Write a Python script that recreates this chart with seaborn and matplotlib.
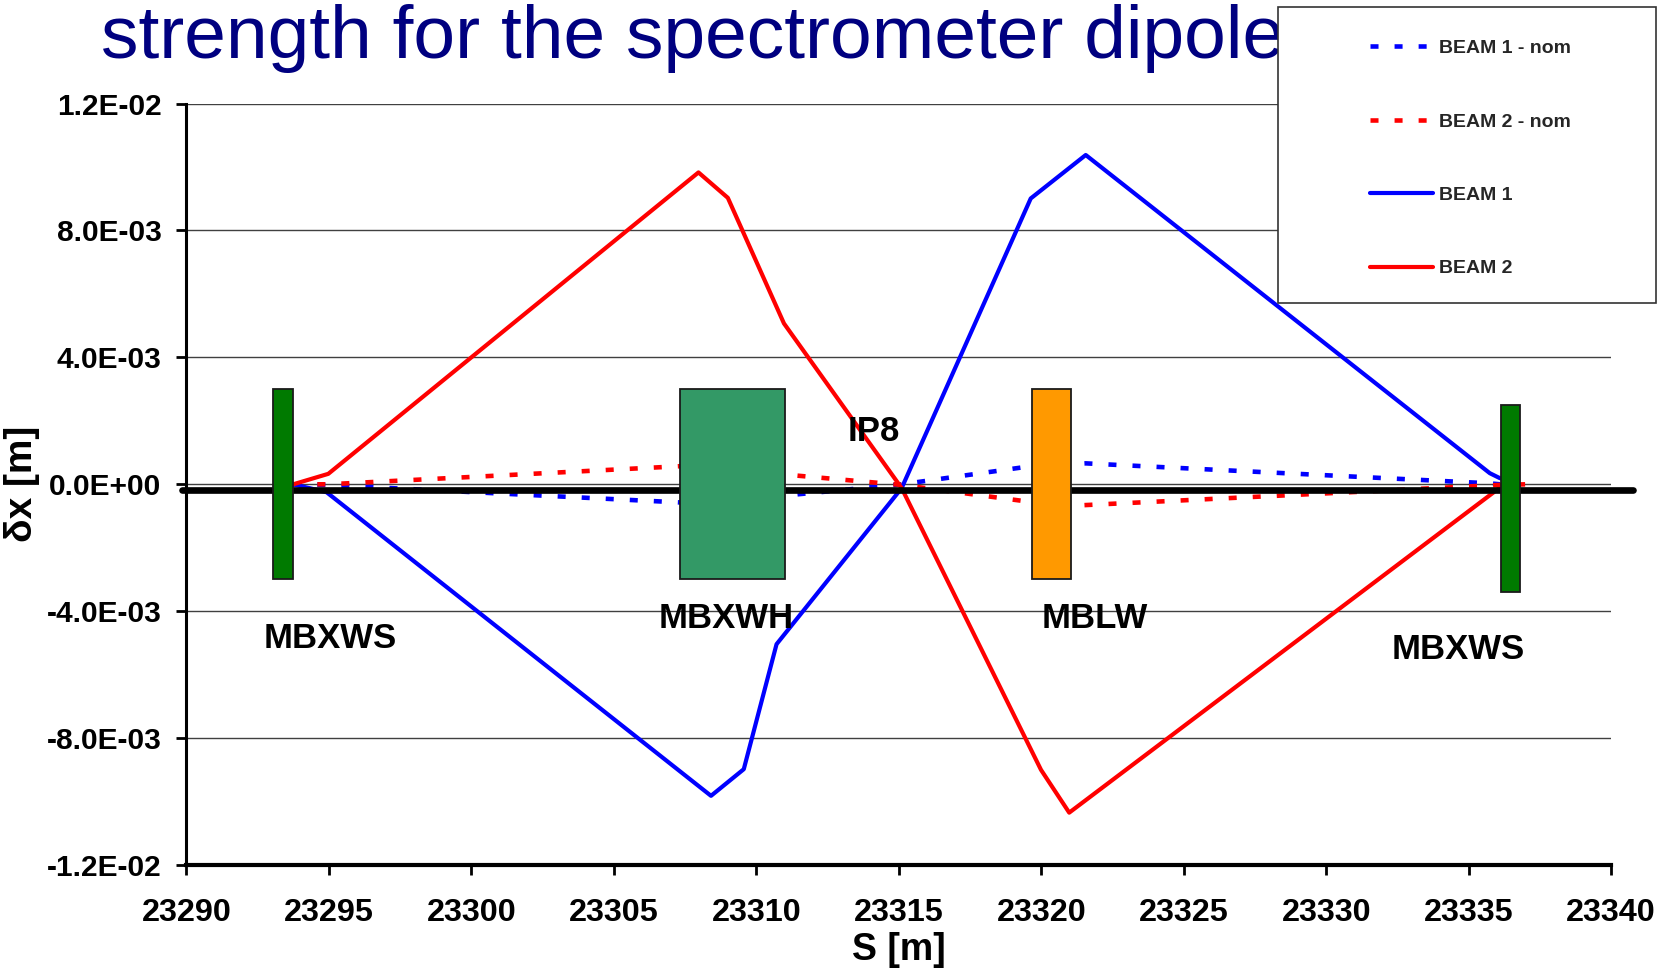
import matplotlib
matplotlib.use("Agg")
import matplotlib.pyplot as plt
from matplotlib.patches import Rectangle
from matplotlib.lines import Line2D
import pandas as pd
import seaborn as sns

# Horizontal orbit offsets dx [m] along S [m] around IP8
s_beam1_nom = [23293.75, 23294.92, 23308.41, 23309.56, 23310.71, 23315.1, 23319.63, 23321.56, 23335.74, 23336.1]
x_beam1_nom = [0.0, -0.02e-3, -0.62e-3, -0.55e-3, -0.38e-3, 0.0, 0.57e-3, 0.66e-3, 0.03e-3, 0.0]

s_beam2_nom = [23293.75, 23294.98, 23307.97, 23309.0, 23310.97, 23315.1, 23319.99, 23320.98, 23336.1, 23337.05]
x_beam2_nom = [0.0, 0.0, 0.6e-3, 0.55e-3, 0.31e-3, -0.02e-3, -0.6e-3, -0.68e-3, -0.02e-3, 0.0]

s_beam1 = [23293.75, 23294.92, 23308.41, 23309.56, 23310.71, 23315.1, 23319.63, 23321.56, 23335.74, 23336.1]
x_beam1 = [0.0, -0.25e-3, -9.82e-3, -8.98e-3, -5.04e-3, -0.12e-3, 9.01e-3, 10.38e-3, 0.35e-3, 0.19e-3]

s_beam2 = [23293.75, 23294.98, 23307.97, 23309.0, 23310.97, 23315.1, 23319.99, 23320.98, 23336.1]
x_beam2 = [0.0, 0.33e-3, 9.83e-3, 9.03e-3, 5.07e-3, -0.12e-3, -9.0e-3, -10.35e-3, -0.1e-3]

# Reference beam axis
axis_s = [23289.85, 23340.75]
axis_x = [-0.19e-3, -0.19e-3]

series_names = ["BEAM 1 - nom", "BEAM 2 - nom", "BEAM 1", "BEAM 2"]
series_colors = ["#0000FF", "#FF0000", "#0000FF", "#FF0000"]

# Magnets: aperture boxes
magnet_s_start = [23293.05, 23307.32, 23319.69, 23336.15]
magnet_s_end = [23293.75, 23311.0, 23321.03, 23336.8]
magnet_x_low = [-3.0e-3, -3.0e-3, -3.0e-3, -3.4e-3]
magnet_x_high = [3.0e-3, 3.0e-3, 3.0e-3, 2.5e-3]
magnet_colors = ["#007A00", "#339966", "#FF9900", "#007A00"]

label_text = ["MBXWS", "MBXWH", "IP8", "MBLW", "MBXWS"]
label_s = [23295.04, 23308.93, 23314.13, 23321.86, 23334.65]
label_x = [-5.17e-3, -4.54e-3, 1.37e-3, -4.54e-3, -5.51e-3]

x_ticks = [23290, 23295, 23300, 23305, 23310, 23315, 23320, 23325, 23330, 23335, 23340]
y_ticks = [-1.2e-2, -8e-3, -4e-3, 0.0, 4e-3, 8e-3, 1.2e-2]
y_tick_labels = ["-1.2E-02", "-8.0E-03", "-4.0E-03", "0.0E+00", "4.0E-03", "8.0E-03", "1.2E-02"]

sns.set_theme(style="white")
plt.rcParams["font.family"] = ["Liberation Sans", "DejaVu Sans"]

frames = []
for name, s, x in zip(series_names,
                      [s_beam1_nom, s_beam2_nom, s_beam1, s_beam2],
                      [x_beam1_nom, x_beam2_nom, x_beam1, x_beam2]):
    frames.append(pd.DataFrame({"S": s, "dx": x, "series": name}))
orbits = pd.concat(frames, ignore_index=True)

dash_nom = (1.75, 3.5)
palette = dict(zip(series_names, series_colors))
dashes = {"BEAM 1 - nom": dash_nom, "BEAM 2 - nom": dash_nom, "BEAM 1": "", "BEAM 2": ""}
widths = {"BEAM 1 - nom": 3.3, "BEAM 2 - nom": 3.3, "BEAM 1": 3.0, "BEAM 2": 3.0}

fig = plt.figure(figsize=(16.61, 9.71), dpi=100)
ax = fig.add_axes([0.11222, 0.10917, 0.8578, 0.78414])

for name in series_names:
    sub = orbits[orbits["series"] == name]
    sns.lineplot(data=sub, x="S", y="dx", ax=ax, color=palette[name],
                 linewidth=widths[name], estimator=None, sort=False,
                 legend=False, zorder=2)
    line = ax.get_lines()[-1]
    if dashes[name]:
        line.set_dashes(dashes[name])
        line.set_dash_capstyle("butt")

sns.lineplot(x=axis_s, y=axis_x, ax=ax, color="black", linewidth=4.8,
             estimator=None, sort=False, legend=False, zorder=3)
ax.get_lines()[-1].set_clip_on(False)

for s0, s1, lo, hi, c in zip(magnet_s_start, magnet_s_end, magnet_x_low, magnet_x_high, magnet_colors):
    ax.add_patch(Rectangle((s0, lo), s1 - s0, hi - lo, facecolor=c,
                           edgecolor="#1a1a1a", linewidth=1.3, zorder=4))

for t, s, x in zip(label_text, label_s, label_x):
    ax.text(s, x, t, ha="center", va="baseline", fontsize=25,
            fontweight="bold", color="black", zorder=5)

ax.set_xlim(23290, 23340)
ax.set_ylim(-0.012, 0.012)
ax.set_xticks(x_ticks)
ax.set_xticklabels([str(v) for v in x_ticks])
ax.set_yticks(y_ticks)
ax.set_yticklabels(y_tick_labels)
ax.yaxis.grid(True, color="#404040", linewidth=1.0)
ax.xaxis.grid(False)
ax.set_axisbelow(True)

for side in ["top", "right"]:
    ax.spines[side].set_visible(False)
ax.spines["left"].set_linewidth(2.2)
ax.spines["bottom"].set_linewidth(3.0)
ax.spines["left"].set_color("black")
ax.spines["bottom"].set_color("black")

ax.tick_params(axis="both", which="major", direction="out", length=7,
               width=2.0, color="black", left=True, bottom=True)
ax.tick_params(axis="y", labelsize=21.5, pad=11)
ax.tick_params(axis="x", labelsize=23.3, pad=16.5)
for lab in ax.get_xticklabels() + ax.get_yticklabels():
    lab.set_fontweight("bold")
    lab.set_color("black")

ax.set_xlabel("S [m]", fontsize=27, fontweight="bold", color="black", labelpad=3)
ax.set_ylabel("δx [m]", fontsize=28, fontweight="bold", color="black", labelpad=5)

fig.text(100.6 / 1661, 1 - 58 / 971, "strength for the spectrometer dipole",
         fontsize=54, color="#000080", ha="left", va="baseline", zorder=3)

# Legend box
fig.add_artist(Rectangle((1277.5 / 1661, 1 - 303.5 / 971), 378 / 1661, 296.2 / 971,
                         transform=fig.transFigure, facecolor="white",
                         edgecolor="#333333", linewidth=1.2, zorder=4))
handles = []
for n in series_names:
    h = Line2D([0], [0], color=palette[n], linewidth=widths[n])
    if dashes[n]:
        h.set_dashes(dashes[n])
        h.set_dash_capstyle("butt")
    handles.append(h)
leg = fig.legend(handles, series_names, loc="upper left",
                 bbox_to_anchor=(1370 / 1661, 1 - 39.5 / 971),
                 frameon=False, borderpad=0, borderaxespad=0,
                 handlelength=3.25, handletextpad=0.3, labelspacing=2.87,
                 prop={"family": "Liberation Sans", "weight": "bold", "size": 14})
leg.set_zorder(5)

fig.savefig("out.png", dpi=100)
